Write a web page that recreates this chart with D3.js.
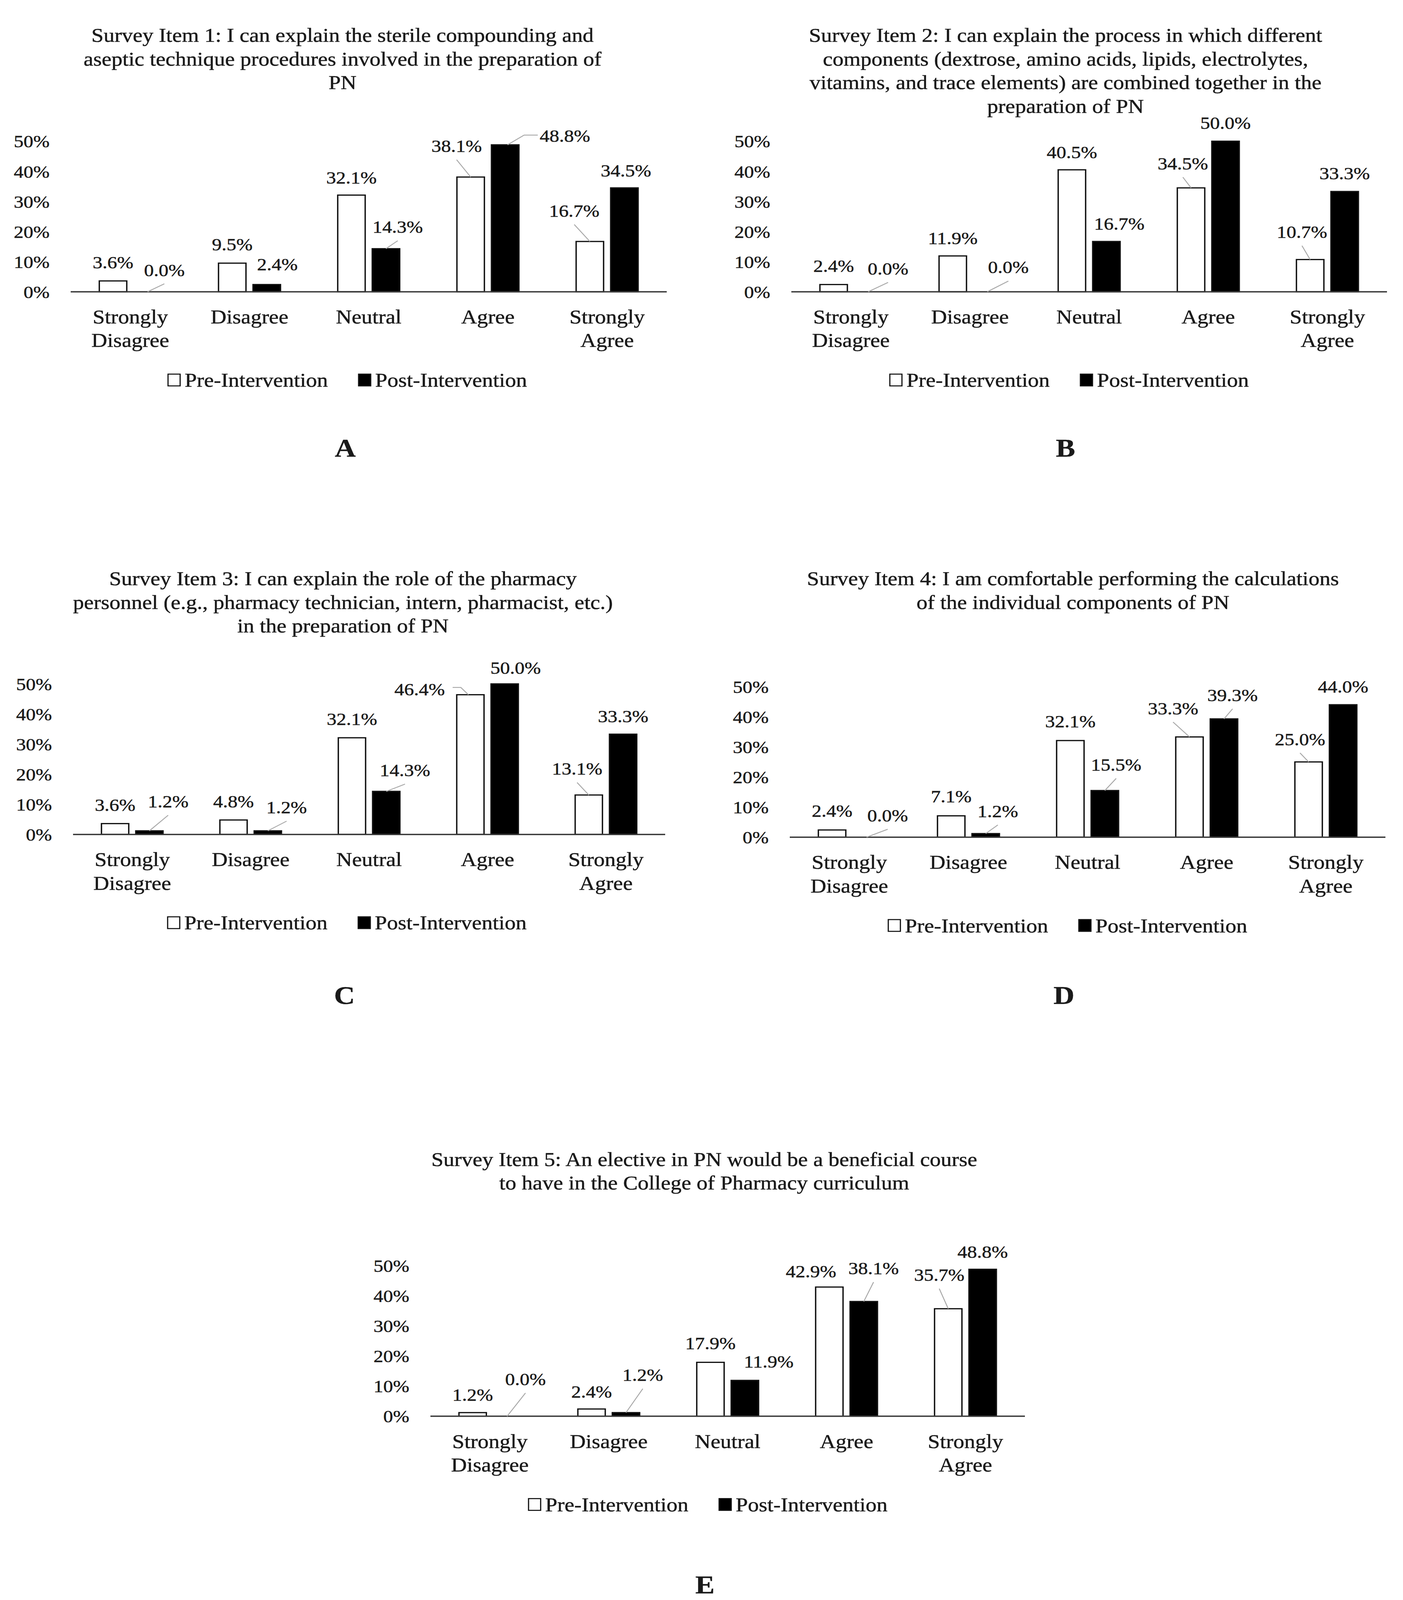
<!DOCTYPE html>
<html>
<head>
<meta charset="utf-8">
<script src="https://cdn.jsdelivr.net/npm/d3@7/dist/d3.min.js"></script>
<style>
  html, body { margin: 0; padding: 0; background: #ffffff; overflow: hidden; }
  svg { display: block; }
  text { font-family: "Liberation Serif", "Times New Roman", serif; fill: #1a1a1a; stroke: #1a1a1a; stroke-width: 0.7px; }
</style>
</head>
<body>
<script>
// ---------------- DATA ----------------
const categories = ["Strongly Disagree", "Disagree", "Neutral", "Agree", "Strongly Agree"];
const seriesNames = ["Pre-Intervention", "Post-Intervention"];
const yTicks = [0, 10, 20, 30, 40, 50];
const panelLetters = ["A", "B", "C", "D", "E"];

const title1 = ["Survey Item 1: I can explain the sterile compounding and",
                "aseptic technique procedures involved in the preparation of",
                "PN"];
const title2 = ["Survey Item 2: I can explain the process in which different",
                "components (dextrose, amino acids, lipids, electrolytes,",
                "vitamins, and trace elements) are combined together in the",
                "preparation of PN"];
const title3 = ["Survey Item 3: I can explain the role of the pharmacy",
                "personnel (e.g., pharmacy technician, intern, pharmacist, etc.)",
                "in the preparation of PN"];
const title4 = ["Survey Item 4: I am comfortable performing the calculations",
                "of the individual components of PN"];
const title5 = ["Survey Item 5: An elective in PN would be a beneficial course",
                "to have in the College of Pharmacy curriculum"];

const pre1  = [3.6, 9.5, 32.1, 38.1, 16.7];
const post1 = [0.0, 2.4, 14.3, 48.8, 34.5];
const pre2  = [2.4, 11.9, 40.5, 34.5, 10.7];
const post2 = [0.0, 0.0, 16.7, 50.0, 33.3];
const pre3  = [3.6, 4.8, 32.1, 46.4, 13.1];
const post3 = [1.2, 1.2, 14.3, 50.0, 33.3];
const pre4  = [2.4, 7.1, 32.1, 33.3, 25.0];
const post4 = [0.0, 1.2, 15.5, 39.3, 44.0];
const pre5  = [1.2, 2.4, 17.9, 42.9, 35.7];
const post5 = [0.0, 1.2, 11.9, 38.1, 48.8];

// ---------------- LAYOUT (positions / styles, kept apart from data) ----------------
const W = 3592, H = 4623;   // reference coordinate system
const layout = [
  { x0: 181,  x1: 1707, base: 843,  titleY: 101,  titleX: 877,  legendX: 889,  letterX: 884,  letterY: 1294 },
  { x0: 2026, x1: 3551, base: 843,  titleY: 101,  titleX: 2728, legendX: 2737, letterX: 2728, letterY: 1294 },
  { x0: 187,  x1: 1703, base: 2411, titleY: 1671, titleX: 878,  legendX: 888,  letterX: 882,  letterY: 2875 },
  { x0: 2022, x1: 3547, base: 2419, titleY: 1671, titleX: 2747, legendX: 2733, letterX: 2724, letterY: 2875 },
  { x0: 1102, x1: 2624, base: 4092, titleY: 3349, titleX: 1803, legendX: 1812, letterX: 1805, letterY: 4578 }
];
// label offsets relative to bar-top centre: [dx, dy, leaderType]
const labelOffsets = [
  { pre:  [[0,-54],[0,-54],[0,-51],[-36,-90,"b"],[-40,-89,"b"]],
    post: [[43,-63,"b"],[27,-59],[30,-63,"b"],[153,-26,"l"],[4,-50]] },
  { pre:  [[0,-54],[0,-51],[0,-51],[-21,-71,"b"],[-21,-80,"b"]],
    post: [[51,-67,"b"],[54,-71,"b"],[33,-52],[0,-53],[0,-53]] },
  { pre:  [[0,-54],[0,-54],[0,-54],[-130,-16,"r"],[-30,-76,"b"]],
    post: [[48,-85,"b"],[48,-68,"b"],[48,-61,"b"],[28,-47],[0,-52]] },
  { pre:  [[0,-56],[0,-56],[0,-56],[-42,-83,"b"],[-22,-66,"b"]],
    post: [[54,-63,"b"],[31,-65,"b"],[29,-75,"b"],[22,-69,"b"],[0,-53]] },
  { pre:  [[0,-52],[0,-50],[0,-55],[-47,-45],[-23,-98,"b"]],
    post: [[47,-107,"b"],[43,-109,"b"],[61,-55],[25,-96,"b"],[0,-51]] }
];

const panels = [
  { title: title1, pre: pre1, post: post1 },
  { title: title2, pre: pre2, post: post2 },
  { title: title3, pre: pre3, post: post3 },
  { title: title4, pre: pre4, post: post4 },
  { title: title5, pre: pre5, post: post5 }
];

const TEXT_SIZE = 56, NUM_SIZE = 50, LETTER_SIZE = 74;
const Y_RANGE = 435;    // pixels for 0..50 %
const TITLE_STEP = 68.5;

// fit the reference canvas to whatever viewport the page gets
const vw = window.innerWidth || W, vh = window.innerHeight || H;
const svg = d3.select("body").append("svg")
  .attr("width", vw).attr("height", vh)
  .attr("viewBox", `0 0 ${W} ${H}`)
  .attr("preserveAspectRatio", "none");
svg.append("rect").attr("width", W).attr("height", H).attr("fill", "#ffffff");

panels.forEach((p, pi) => {
  const L = layout[pi];
  const g = svg.append("g");

  // title
  g.append("g").selectAll("text").data(p.title).join("text")
    .attr("x", L.titleX)
    .attr("y", (d, i) => L.titleY + i * TITLE_STEP)
    .attr("dy", "0.35em")
    .attr("text-anchor", "middle")
    .style("font-size", TEXT_SIZE + "px")
    .text(d => d);

  // scales
  const x0 = d3.scaleBand().domain(categories).range([L.x0, L.x1]).paddingInner(0).paddingOuter(0);
  const pairW = x0.bandwidth() * 0.52;
  const x1 = d3.scaleBand().domain(seriesNames).range([0, pairW]).paddingInner(0.2045).paddingOuter(0);
  const y = d3.scaleLinear().domain([0, 50]).range([L.base, L.base - Y_RANGE]);

  // y axis (labels only)
  const yAxis = d3.axisLeft(y).tickValues(yTicks).tickFormat(d => d + "%").tickSize(0).tickPadding(0);
  const ya = g.append("g").attr("transform", `translate(${L.x0 - 54},0)`).call(yAxis);
  ya.select(".domain").remove();
  ya.selectAll("text")
    .attr("x", 0).attr("dy", "0.35em")
    .style("font-size", NUM_SIZE + "px")
    .style("font-family", '"Liberation Serif", serif')
    .attr("fill", "#1a1a1a");

  // bars
  const rows = categories.map((c, i) => ({ cat: c, i, vals: [p.pre[i], p.post[i]] }));
  const grp = g.append("g").selectAll("g").data(rows).join("g")
    .attr("transform", d => `translate(${x0(d.cat) + (x0.bandwidth() - pairW) / 2},0)`);

  grp.selectAll("rect").data(d => d.vals.map((v, s) => ({ v, s, i: d.i })))
    .join("rect")
    .attr("x", d => x1(seriesNames[d.s]))
    .attr("width", x1.bandwidth())
    .attr("y", d => y(d.v))
    .attr("height", d => L.base - y(d.v))
    .attr("fill", d => d.s === 0 ? "#ffffff" : "#000000")
    .attr("stroke", "#111111")
    .attr("stroke-width", d => d.v > 0 ? 3.5 : 0);

  // x axis line
  g.append("line")
    .attr("x1", L.x0).attr("x2", L.x1)
    .attr("y1", L.base).attr("y2", L.base)
    .attr("stroke", "#3a3a3a").attr("stroke-width", 4);

  // category labels
  const xa = g.append("g");
  categories.forEach(c => {
    const words = c.split(" ");
    const t = xa.append("text")
      .attr("text-anchor", "middle")
      .style("font-size", TEXT_SIZE + "px");
    const cx = x0(c) + x0.bandwidth() / 2;
    words.forEach((w, wi) => {
      t.append("tspan").attr("x", cx).attr("y", L.base + 72 + wi * 68).attr("dy", "0.35em").text(w);
    });
  });

  // value labels + leader lines
  const lab = g.append("g");
  rows.forEach(r => {
    r.vals.forEach((v, s) => {
      const off = labelOffsets[pi][s === 0 ? "pre" : "post"][r.i];
      const bx = x0(r.cat) + (x0.bandwidth() - pairW) / 2 + x1(seriesNames[s]) + x1.bandwidth() / 2;
      const by = y(v);
      const lx = bx + off[0], ly = by + off[1];
      const t = lab.append("text")
        .attr("x", lx).attr("y", ly).attr("dy", "0.35em")
        .attr("text-anchor", "middle")
        .style("font-size", NUM_SIZE + "px")
        .text(v.toFixed(1) + "%");
      const tw = t.node().getComputedTextLength();
      let pts = null;
      if (off[2] === "b") {
        pts = [[bx, by], [lx, ly + 40]];
      } else if (off[2] === "l") {
        const left = lx - tw / 2;
        pts = [[bx + 6, by], [left - 40, ly - 2], [left - 5, ly - 2]];
      } else if (off[2] === "r") {
        const right = lx + tw / 2;
        pts = [[bx - 5, by], [right + 41, ly - 5], [right + 20, ly - 5]];
      }
      if (pts) {
        lab.append("path")
          .attr("d", d3.line()(pts))
          .attr("fill", "none")
          .attr("stroke", "#a8a8a8")
          .attr("stroke-width", 2.5);
      }
    });
  });

  // legend
  const leg = g.append("g");
  const sq = 34, gapText = 10, gapItem = 77;
  const items = seriesNames.map((n, s) => {
    const t = leg.append("text").style("font-size", TEXT_SIZE + "px").attr("dy", "0.35em").text(n);
    return { t, w: t.node().getComputedTextLength(), s };
  });
  const total = items.reduce((a, it) => a + sq + gapText + it.w, 0) + gapItem;
  let cx = L.legendX - total / 2;
  const ly = L.base + 255;
  items.forEach(it => {
    leg.append("rect")
      .attr("x", cx + 1.5).attr("y", ly - 17).attr("width", sq - 3).attr("height", sq)
      .attr("fill", it.s === 0 ? "#ffffff" : "#000000")
      .attr("stroke", "#111111").attr("stroke-width", 3);
    it.t.attr("x", cx + sq + gapText).attr("y", ly);
    cx += sq + gapText + it.w + gapItem;
  });

  // panel letter
  g.append("text")
    .attr("x", L.letterX).attr("y", L.letterY).attr("dy", "0.35em")
    .attr("text-anchor", "middle")
    .style("font-size", LETTER_SIZE + "px")
    .style("font-weight", "bold")
    .attr("fill", "#000000")
    .text(panelLetters[pi]);
});
</script>
</body>
</html>
